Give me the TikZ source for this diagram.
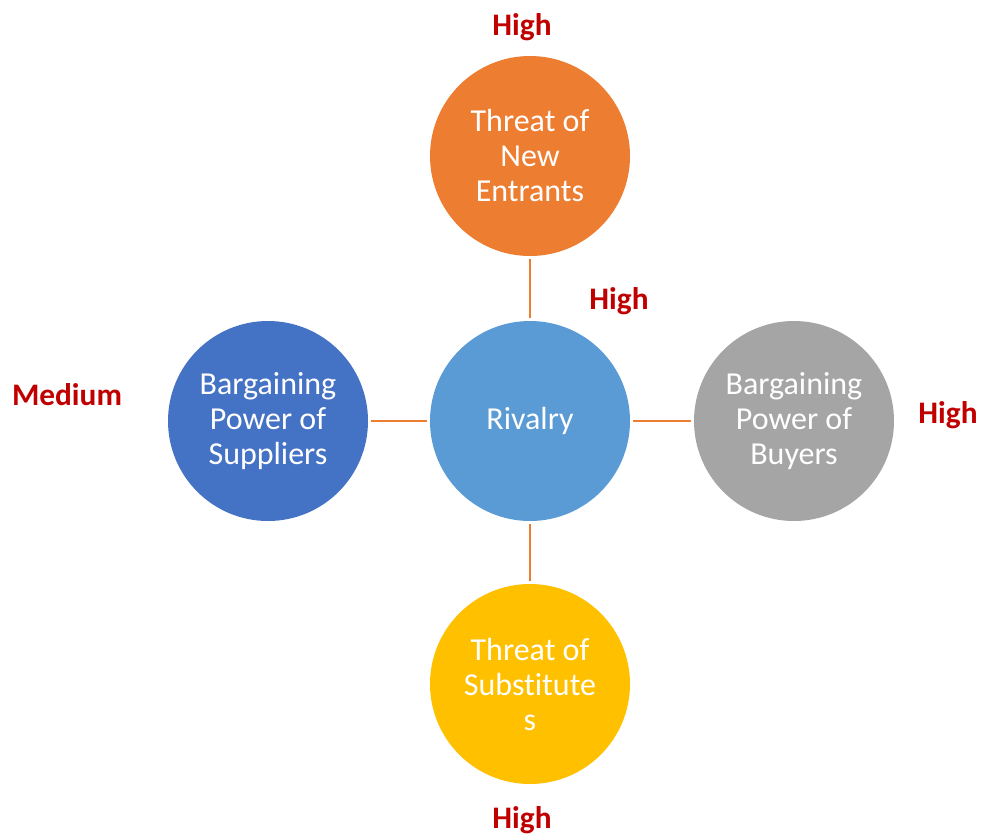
\documentclass[tikz,border=0pt]{standalone}
\usepackage{fontspec}
\setmainfont{Carlito}[Ligatures={NoCommon}]
\definecolor{forceorange}{HTML}{ED7D31}
\definecolor{forceblue}{HTML}{4472C4}
\definecolor{forcelight}{HTML}{5B9BD5}
\definecolor{forcegray}{HTML}{A5A5A5}
\definecolor{forceyellow}{HTML}{FFC000}
\definecolor{levelred}{HTML}{C00000}
\tikzset{
  force/.style={circle, minimum size=150pt, inner sep=0pt, outer sep=2pt, text=white, align=center,
    font=\fontsize{24}{26.25}\selectfont},
  level/.style={text=levelred, inner sep=0pt, font=\fontsize{23.5}{26}\selectfont\bfseries},
  link/.style={forceorange, line width=1.9pt}
}
\begin{document}
\begin{tikzpicture}[x=0.75pt, y=-0.75pt]
            \useasboundingbox (0, 0) rectangle (982, 835);
            \node [force, fill=forcelight] (rivalry) at (530, 421) {Rivalry};
            \node [force, fill=forceorange] (entrants) at (530, 156) {Threat of\\New\\Entrants};
            \node [force, fill=forceblue] (suppliers) at (268, 421) {Bargaining\\Power of\\Suppliers};
            \node [force, fill=forcegray] (buyers) at (794, 421) {Bargaining\\Power of\\Buyers};
            \node [force, fill=forceyellow] (substitutes) at (530, 684) {Threat of\\Substitute\\s};
            \draw [link] (entrants) -- (rivalry);
            \draw [link] (suppliers) -- (rivalry);
            \draw [link] (buyers) -- (rivalry);
            \draw [link] (substitutes) -- (rivalry);
            \node [level] (entrantslevel) at (522, 27) {High};
            \node [level] (rivalrylevel) at (619, 301) {High};
            \node [level] (supplierslevel) at (67, 395) {Medium};
            \node [level] (buyerslevel) at (948, 415) {High};
            \node [level] (substituteslevel) at (522, 820) {High};
        \end{tikzpicture}
\end{document}
